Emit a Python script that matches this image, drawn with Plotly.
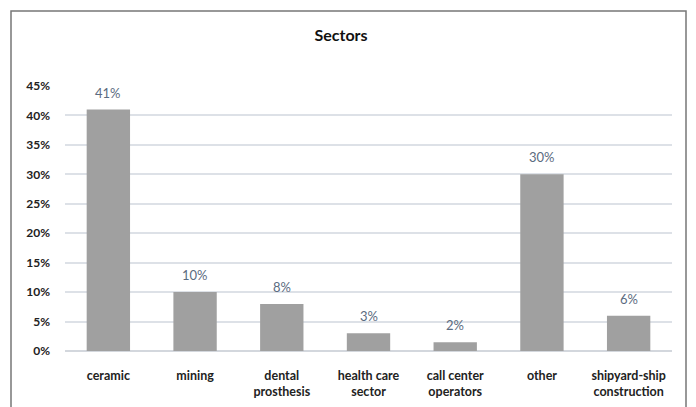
import plotly.graph_objects as go

categories = ["ceramic", "mining", "dental<br>prosthesis", "health care<br>sector",
              "call center<br>operators", "other", "shipyard-ship<br>construction"]
values = [41, 10, 8, 3, 1.5, 30, 6]
labels = ["41%", "10%", "8%", "3%", "2%", "30%", "6%"]
tick_vals = [0, 5, 10, 15, 20, 25, 30, 35, 40, 45]
tick_text = ["0%", "5%", "10%", "15%", "20%", "25%", "30%", "35%", "40%", "45%"]

FONT = "Lato, Open Sans"

fig = go.Figure(go.Bar(
    x=categories, y=values,
    marker=dict(color="#a0a0a0", line=dict(width=0)),
    cliponaxis=False,
))

for c, v, t in zip(categories, values, labels):
    fig.add_annotation(x=c, y=v, text=t, showarrow=False, yanchor="bottom", yshift=7,
                       font=dict(family=FONT, size=13, color="#5b6b80"))

fig.update_layout(
    width=696, height=407,
    margin=dict(l=65, r=24, t=86, b=56),
    paper_bgcolor="white", plot_bgcolor="white",
    bargap=0.5,
    showlegend=False,
    title=dict(text="<b>Sectors</b>", x=0.49, xanchor="center", y=1 - 35/407, yanchor="middle",
               font=dict(family=FONT, size=16, color="#111")),
    font=dict(family=FONT, color="#222"),
)
fig.update_yaxes(range=[0, 45], tickvals=tick_vals, ticktext=["<b>%s</b>" % t for t in tick_text],
                 showgrid=True, gridcolor="#dde1e7", gridwidth=1.5, zeroline=True,
                 zerolinecolor="#d3d7dd", zerolinewidth=1.5, automargin=False,
                 tickfont=dict(family=FONT, size=12, color="#222"), ticks="", ticklabelstandoff=14)
fig.update_xaxes(tickfont=dict(family=FONT, size=12.5, color="#222"), ticks="", tickangle=0,
                 automargin=False, ticklabelstandoff=15,
                 ticktext=["<b>%s</b>" % c for c in categories], tickvals=categories)

fig.add_shape(type="rect", xref="paper", yref="paper",
              x0=(11 - 65) / 607, x1=(686 - 65) / 607, y0=-0.4, y1=(351 - 11) / 265,
              line=dict(color="#777", width=1.5), fillcolor="rgba(0,0,0,0)", layer="below")

fig.write_html("out.html", config={"displayModeBar": False},
               post_script="document.body.style.margin='0';document.body.style.overflow='hidden';")
